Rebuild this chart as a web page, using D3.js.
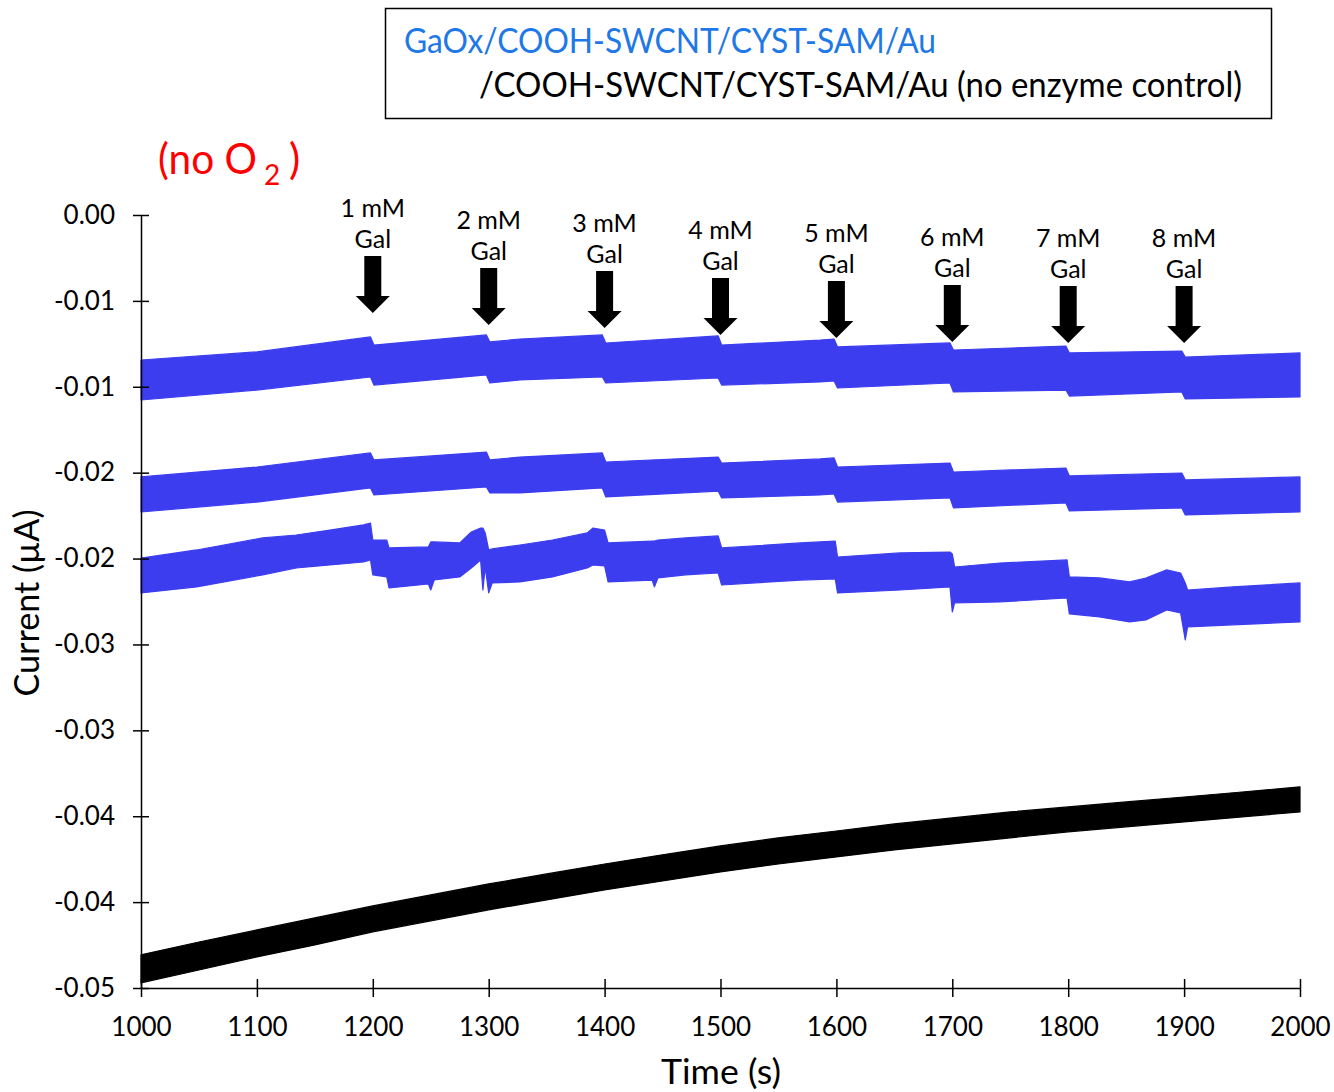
<!DOCTYPE html>
<html><head><meta charset="utf-8">
<script src="https://cdn.jsdelivr.net/npm/d3@7"></script>
<style>body{margin:0;background:#fff}svg{display:block}text{font-family:Lato,"Open Sans",sans-serif}</style>
</head><body><svg id="c" width="1334" height="1092"></svg>
<script>
// ---------- data ----------
const xTicks = [1000,1100,1200,1300,1400,1500,1600,1700,1800,1900,2000];
const yTicks = [0,-0.005,-0.01,-0.015,-0.02,-0.025,-0.03,-0.035,-0.04,-0.045];
const yTickLabels = ["0.00","-0.01","-0.01","-0.02","-0.02","-0.03","-0.03","-0.04","-0.04","-0.05"];

// trace A (GaOx, top band): time, upper envelope, lower envelope
const tA   = [1000,1100,1198,1201,1298,1301,1327,1398,1401,1498,1501,1586,1598,1601,1698,1701,1798,1801,1898,1901,2000];
const hiA  = [-0.00844,-0.00797,-0.00710,-0.00757,-0.00698,-0.00739,-0.00722,-0.00698,-0.00745,-0.00704,-0.00757,-0.00728,-0.00722,-0.00768,-0.00745,-0.00786,-0.00763,-0.00803,-0.00792,-0.00827,-0.00803];
const loA  = [-0.01077,-0.01019,-0.00943,-0.00990,-0.00931,-0.00978,-0.00960,-0.00943,-0.00978,-0.00949,-0.00990,-0.00972,-0.00966,-0.01007,-0.00978,-0.01030,-0.01019,-0.01054,-0.01030,-0.01071,-0.01059];

// trace B (GaOx, middle band)
const tB   = [1000,1100,1198,1201,1298,1301,1327,1398,1401,1498,1501,1586,1598,1601,1698,1701,1798,1801,1898,1901,2000];
const hiB  = [-0.01525,-0.01467,-0.01385,-0.01426,-0.01380,-0.01426,-0.01409,-0.01385,-0.01438,-0.01409,-0.01444,-0.01420,-0.01414,-0.01467,-0.01444,-0.01496,-0.01473,-0.01519,-0.01502,-0.01542,-0.01525];
const loB  = [-0.01729,-0.01671,-0.01589,-0.01630,-0.01583,-0.01618,-0.01618,-0.01589,-0.01641,-0.01607,-0.01647,-0.01630,-0.01624,-0.01671,-0.01647,-0.01705,-0.01676,-0.01723,-0.01705,-0.01746,-0.01729];

// trace C (GaOx, lower band with disturbances)
const tC   = [1000,1048,1105,1134,1163,1192,1198,1200,1212,1214,1248,1250,1253,1275,1285,1293,1295,1297,1300,1303,1327,1355,1385,1390,1400,1403,1441,1443,1446,1470,1498,1501,1569,1599,1601,1655,1698,1700,1702,1741,1799,1801,1827,1853,1867,1885,1897,1901,1903,1942,2000];
const hiC  = [-0.01997,-0.01950,-0.01880,-0.01863,-0.01834,-0.01804,-0.01793,-0.01892,-0.01892,-0.01938,-0.01932,-0.01903,-0.01903,-0.01909,-0.01845,-0.01822,-0.01822,-0.01851,-0.01950,-0.01944,-0.01921,-0.01892,-0.01851,-0.01822,-0.01834,-0.01909,-0.01898,-0.01898,-0.01892,-0.01880,-0.01868,-0.01938,-0.01909,-0.01898,-0.01991,-0.01967,-0.01962,-0.01973,-0.02049,-0.02026,-0.02008,-0.02107,-0.02113,-0.02136,-0.02113,-0.02066,-0.02084,-0.02142,-0.02183,-0.02165,-0.02142];
const loC  = [-0.02200,-0.02165,-0.02095,-0.02055,-0.02037,-0.02020,-0.02008,-0.02095,-0.02107,-0.02171,-0.02148,-0.02183,-0.02125,-0.02107,-0.02055,-0.02008,-0.02183,-0.02049,-0.02200,-0.02142,-0.02136,-0.02107,-0.02055,-0.02037,-0.02043,-0.02136,-0.02125,-0.02165,-0.02113,-0.02095,-0.02084,-0.02154,-0.02125,-0.02119,-0.02200,-0.02183,-0.02165,-0.02311,-0.02258,-0.02253,-0.02229,-0.02322,-0.02340,-0.02369,-0.02357,-0.02299,-0.02317,-0.02474,-0.02398,-0.02386,-0.02369];

// trace D (no enzyme control, black band)
const tD   = [1000,1050,1100,1150,1200,1250,1300,1350,1400,1450,1500,1550,1600,1650,1700,1750,1800,1850,1900,1950,2000];
const hiD  = [-0.04307,-0.04232,-0.04162,-0.04092,-0.04022,-0.03958,-0.03894,-0.03836,-0.03778,-0.03725,-0.03673,-0.03626,-0.03586,-0.03545,-0.03510,-0.03475,-0.03446,-0.03417,-0.03388,-0.03359,-0.03329];
const loD  = [-0.04470,-0.04395,-0.04319,-0.04249,-0.04173,-0.04109,-0.04045,-0.03987,-0.03929,-0.03877,-0.03824,-0.03778,-0.03737,-0.03696,-0.03661,-0.03626,-0.03591,-0.03562,-0.03533,-0.03504,-0.03475];

// galactose additions
const addTimes  = [1200,1300,1400,1500,1600,1700,1800,1900];
const addLabels = ["1 mM","2 mM","3 mM","4 mM","5 mM","6 mM","7 mM","8 mM"];
const arrowTips = [-0.00570,-0.00640,-0.00658,-0.00698,-0.00716,-0.00739,-0.00745,-0.00745];

const legendLabels = ["GaOx/COOH-SWCNT/CYST-SAM/Au","/COOH-SWCNT/CYST-SAM/Au (no enzyme control)"];

// ---------- drawing ----------
const svg = d3.select("#c");
const x = d3.scaleLinear().domain([1000,2000]).range([141,1300]);
const y = d3.scaleLinear().domain([-0.045,0]).range([988,215]);
const BLUE = "#3d3df0";

function band(ts, hi, lo, color){
  const pts = ts.map((t,i)=>({t, hi:hi[i], lo:lo[i]}));
  const area = d3.area().x(d=>x(d.t)).y0(d=>y(d.lo)).y1(d=>y(d.hi)).curve(d3.curveLinear);
  svg.append("path").datum(pts).attr("d",area).attr("fill",color)
     .attr("stroke",color).attr("stroke-width",1.2).attr("stroke-linejoin","round");
}
band(tA,hiA,loA,BLUE);
band(tB,hiB,loB,BLUE);
band(tC,hiC,loC,BLUE);
band(tD,hiD,loD,"#000");

// axes
const yAxis = svg.append("g").attr("transform","translate(141,0)")
  .call(d3.axisLeft(y).tickValues(yTicks).tickFormat((d,i)=>yTickLabels[i]).tickSizeInner(8).tickSizeOuter(0).tickPadding(18));
yAxis.selectAll(".tick line").attr("x2",8).attr("x1",-8).attr("stroke-width",1.5);
yAxis.select(".domain").attr("stroke-width",1.5);
yAxis.selectAll("text").attr("font-size",26).attr("font-family","Lato").attr("fill","#000");

const xAxis = svg.append("g").attr("transform","translate(0,988)")
  .call(d3.axisBottom(x).tickValues(xTicks).tickFormat(d3.format("d")).tickSizeInner(9).tickSizeOuter(0).tickPadding(21));
xAxis.selectAll(".tick line").attr("y1",-9).attr("y2",9).attr("stroke-width",1.5);
xAxis.select(".domain").attr("stroke-width",1.5);
xAxis.selectAll("text").attr("font-size",26).attr("font-family","Lato").attr("fill","#000");

// axis titles
svg.append("text").attr("x",721).attr("y",1084).attr("text-anchor","middle")
  .attr("font-size",34).attr("textLength",120).attr("lengthAdjust","spacingAndGlyphs").text("Time (s)");
svg.append("text").attr("transform","translate(39,603) rotate(-90)").attr("text-anchor","middle")
  .attr("font-size",34).attr("textLength",187).attr("lengthAdjust","spacingAndGlyphs").text("Current (µA)");

// arrows
const ann = svg.append("g");
addTimes.forEach((t,i)=>{
  const cx = x(t), tip = y(arrowTips[i]);
  const top = tip - 57, hw = 8.5, hh = 17, hd = 17;
  ann.append("path").attr("fill","#000")
    .attr("d",`M${cx-hw},${top}H${cx+hw}V${tip-hh}H${cx+hd}L${cx},${tip}L${cx-hd},${tip-hh}H${cx-hw}Z`);
  ann.append("text").attr("x",cx).attr("y",top-8).attr("text-anchor","middle").attr("font-size",25).text("Gal");
  ann.append("text").attr("x",cx).attr("y",top-39).attr("text-anchor","middle").attr("font-size",25).text(addLabels[i]);
});

// legend
svg.append("rect").attr("x",385.5).attr("y",8.5).attr("width",886).attr("height",110)
  .attr("fill","none").attr("stroke","#000").attr("stroke-width",1.5);
svg.append("text").attr("x",404).attr("y",53).attr("font-size",35).attr("fill","#1e78e6")
  .attr("textLength",532).attr("lengthAdjust","spacingAndGlyphs").text(legendLabels[0]);
svg.append("text").attr("x",479).attr("y",97).attr("font-size",35).attr("fill","#000")
  .attr("textLength",763).attr("lengthAdjust","spacingAndGlyphs").text(legendLabels[1]);

// (no O2)
const red = "#ff0000";
svg.append("text").attr("x",158).attr("y",174).attr("font-size",42).attr("fill",red)
  .attr("textLength",99).attr("lengthAdjust","spacingAndGlyphs").text("(no O");
svg.append("text").attr("x",264).attr("y",185).attr("font-size",28).attr("fill",red).text("2");
svg.append("text").attr("x",289).attr("y",174).attr("font-size",42).attr("fill",red).text(")");
</script></body></html>
